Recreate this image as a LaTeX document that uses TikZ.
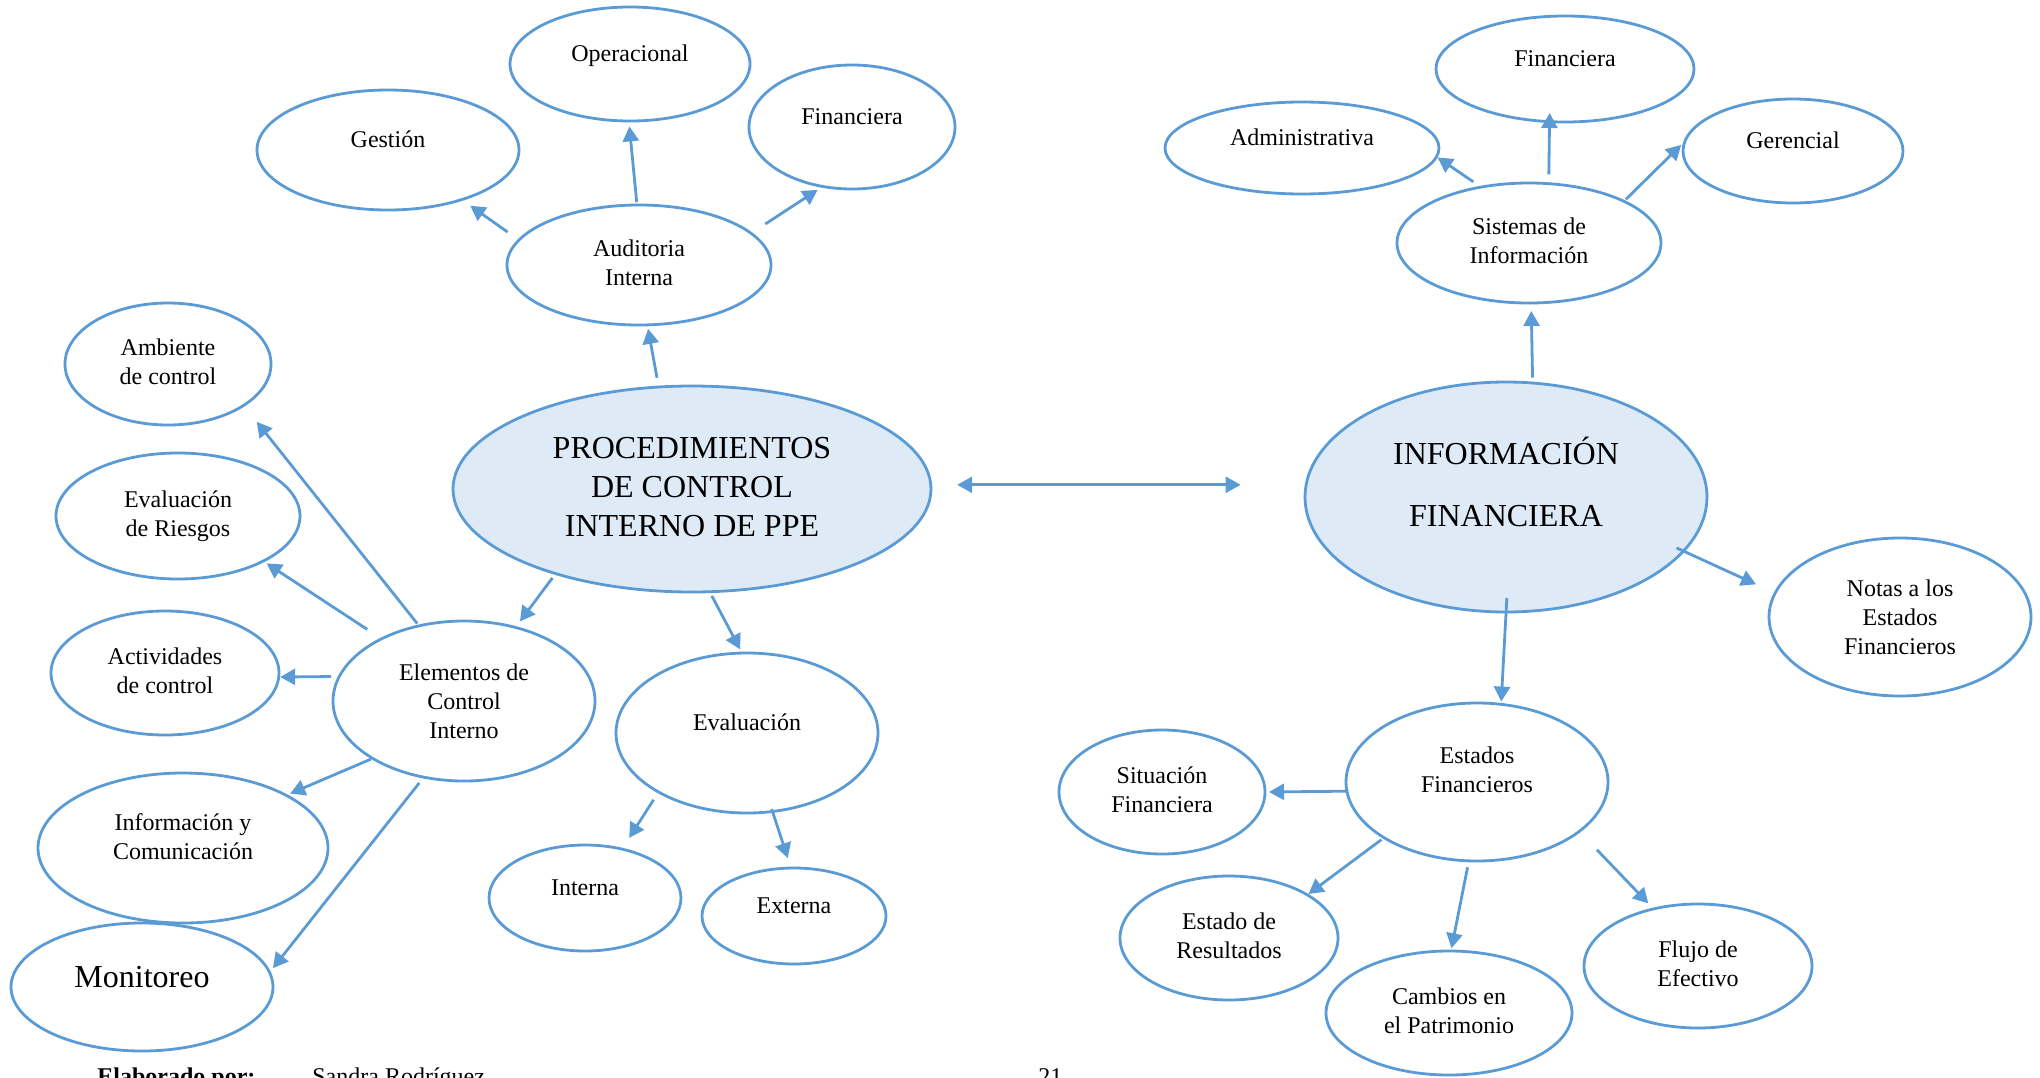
\documentclass[tikz,border=0pt]{standalone}
\usepackage{fontspec}
\setmainfont{Liberation Serif}
\usetikzlibrary{shapes.geometric}
\usetikzlibrary{arrows.meta}
\definecolor{azul}{HTML}{5B9BD5}
\definecolor{celeste}{HTML}{DEEBF7}
\tikzset{
	tema/.style={draw=azul, ellipse, line width=1.4pt, inner sep=0pt, align=center, font=\fontsize{12}{14.6}\selectfont},
	central/.style={tema, fill=celeste, font=\fontsize{16}{19.5}\selectfont},
	% text a bit above the centre of the ellipse
	una/.style={text height=9pt, text depth=12pt},
	dos/.style={text height=23.6pt, text depth=3pt},
	pie/.style={anchor=base west, inner sep=0pt, font=\fontsize{12}{14.6}\selectfont}
}
\begin{document}
\begin{tikzpicture}[x=0.5pt, y=-0.5pt]
	\useasboundingbox (0,0) rectangle (2040,1077);
	
	\node (proc) [central, text depth=2.6pt, minimum width=239pt, minimum height=103pt] at (692,489) {PROCEDIMIENTOS\\DE CONTROL\\INTERNO DE PPE};
	\node (info) [central, font=\fontsize{16}{31}\selectfont, text height=42pt, text depth=13pt, minimum width=201pt, minimum height=115pt] at (1506,497) {INFORMACIÓN\\FINANCIERA};
	
	% auditoria
	\node (aud) [tema, dos, minimum width=132pt, minimum height=60pt] at (639,265) {Auditoria\\Interna};
	\node (ges) [tema, una, minimum width=131pt, minimum height=60pt] at (388,150) {Gestión};
	\node (ope) [tema, una, minimum width=120pt, minimum height=57pt] at (630,64) {Operacional};
	\node (finl) [tema, una, minimum width=103pt, minimum height=62pt] at (852,127) {Financiera};
	
	% elementos
	\node (elem) [tema, minimum width=131pt, minimum height=80pt] at (464,701) {Elementos de\\Control\\Interno};
	\node (amb) [tema, dos, minimum width=103pt, minimum height=61pt] at (168,364) {Ambiente\\de control};
	\node (evr) [tema, dos, minimum width=122pt, minimum height=63pt] at (178,516) {Evaluación\\de Riesgos};
	\node (act) [tema, dos, minimum width=114pt, minimum height=62pt] at (165,673) {Actividades\\de control};
	\node (icom) [tema, dos, text depth=12pt, minimum width=145pt, minimum height=75pt] at (183,848) {Información y\\Comunicación};
	\node (mon) [tema, font=\fontsize{16}{19.5}\selectfont, text height=11pt, text depth=11pt, minimum width=131pt, minimum height=64pt] at (142,987) {Monitoreo};
	
	% evaluacion
	\node (eval) [tema, una, minimum width=131pt, minimum height=80pt] at (747,733) {Evaluación};
	\node (inte) [tema, una, minimum width=96pt, minimum height=53pt] at (585,898) {Interna};
	\node (exte) [tema, una, minimum width=92pt, minimum height=48pt] at (794,916) {Externa};
	
	% sistemas
	\node (sis) [tema, dos, minimum width=132pt, minimum height=60pt] at (1529,243) {Sistemas de\\Información};
	\node (adm) [tema, una, minimum width=137pt, minimum height=46pt] at (1302,148) {Administrativa};
	\node (finr) [tema, una, minimum width=129pt, minimum height=53pt] at (1565,69) {Financiera};
	\node (ger) [tema, una, minimum width=110pt, minimum height=52pt] at (1793,151) {Gerencial};
	\node (notas) [tema, minimum width=131pt, minimum height=79pt] at (1900,617) {Notas a los\\Estados\\Financieros};
	
	% estados
	\node (est) [tema, dos, text depth=13pt, minimum width=131pt, minimum height=79pt] at (1477,782) {Estados\\Financieros};
	\node (sit) [tema, dos, minimum width=103pt, minimum height=62pt] at (1162,792) {Situación\\Financiera};
	\node (edr) [tema, dos, minimum width=109pt, minimum height=62pt] at (1229,938) {Estado de\\Resultados};
	\node (camb) [tema, dos, minimum width=123pt, minimum height=62pt] at (1449,1013) {Cambios en\\el Patrimonio};
	\node (flujo) [tema, dos, minimum width=114pt, minimum height=62pt] at (1698,966) {Flujo de\\Efectivo};
	
	\node (elab) [pie, font=\fontsize{12}{14.6}\selectfont\bfseries] at (97,1084) {Elaborado por:};
	\node (autor) [pie] at (312,1084) {Sandra Rodríguez};
	\node (pag) [pie] at (1038,1084) {21};
	
	\begin{scope}[azul, line width=1.4pt, ->, >={Triangle[length=7.5pt, width=8pt]}]
		\draw[<->, shorten <=12.5pt, shorten >=31.5pt] (proc.1.5) -- (proc.1.5 -| info.west);
		
		\draw[shorten <=4pt, shorten >=1.3pt] (proc.108) -- (aud.278);
		\draw[shorten <=6.3pt, shorten >=4.4pt] (aud.168) -- (ges.326);
		\draw[shorten <=0.7pt, shorten >=2pt] (aud.92) -- (ope.269);
		\draw[shorten <=7.8pt, shorten >=2.1pt] (aud.16) -- (finl.243);
		
		\draw[shorten <=2pt, shorten >=3pt] (proc.212) -- (elem.55);
		\draw[shorten <=0.7pt, shorten >=9.8pt] (elem.121) -- (amb.331);
		\draw[shorten <=7.8pt, shorten >=1.3pt] (elem.143) -- (evr.332);
		\draw[shorten <=3.3pt, shorten >=0pt] (elem.169) -- (act.358);
		\draw[shorten <=0pt, shorten >=1.3pt] (elem.212) -- (icom.27);
		\draw[shorten <=2.9pt, shorten >=2pt] (elem.242) -- (mon.7);
		
		\draw[shorten <=1.6pt, shorten >=1.3pt] (proc.280) -- (eval.94);
		\draw[shorten <=3.9pt, shorten >=5.9pt] (eval.214) -- (inte.53);
		\draw[shorten <=-2pt, shorten >=4.5pt] (eval.288) -- (exte.94);
		
		\draw[shorten <=2pt, shorten >=3.3pt] (info.77) -- (sis.272);
		\draw[shorten <=3.7pt, shorten >=0pt] (sis.131) -- (adm.356);
		\draw[shorten <=3.9pt, shorten >=-5pt] (sis.72) -- (finr.254);
		\draw[shorten <=0.7pt, shorten >=1.1pt] (sis.24) -- (ger.176);
		\draw[shorten <=-4.5pt, shorten >=9.8pt] (info.343) -- (notas.169);
		
		\draw[shorten <=-7.8pt, shorten >=0.7pt] (info.270) -- (est.73);
		\draw[shorten <=-1.3pt, shorten >=1.3pt] (est.184) -- (sit.0);
		\draw[shorten <=0.9pt, shorten >=0pt] (est.211) -- (edr.29.5);
		\draw[shorten <=2.6pt, shorten >=0.7pt] (est.264) -- (camb.88);
		\draw[shorten <=12pt, shorten >=3pt] (est.334) -- (flujo.128);
	\end{scope}
\end{tikzpicture}
\end{document}
